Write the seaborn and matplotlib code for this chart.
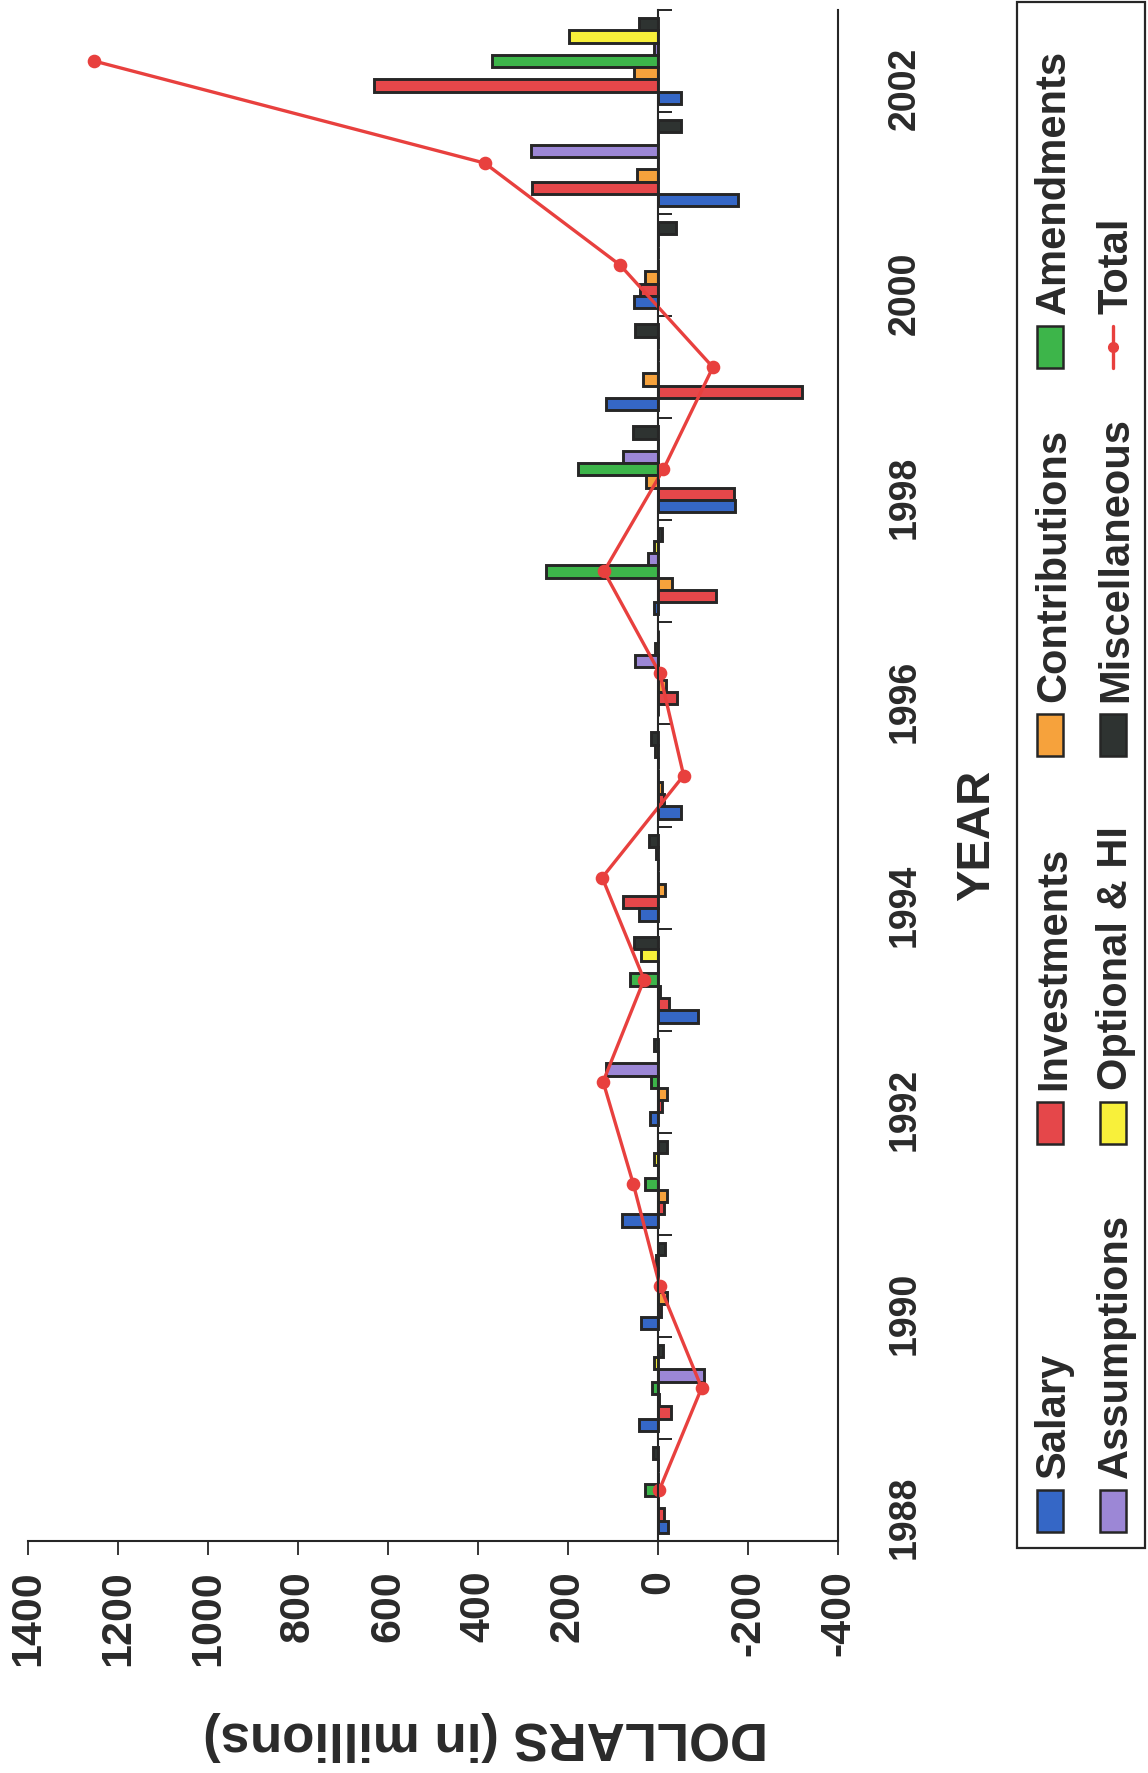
import numpy as np
import pandas as pd
import matplotlib
matplotlib.use("Agg")
import matplotlib.pyplot as plt
from matplotlib.patches import Rectangle
from matplotlib.lines import Line2D
import seaborn as sns

# ---- data (millions of dollars) -------------------------------------------
years = [1988, 1989, 1990, 1991, 1992, 1993, 1994, 1995,
         1996, 1997, 1998, 1999, 2000, 2001, 2002]
salary = [-22, 42, 37, 79, 17, -88, 42, -52, 0, 9, -172, 115, 54, -178, -50]
investments = [-13, -28, -7, -13, -9, -24, 78, -13, -42, -128, -169, -319, 39, 279, 632]
contributions = [0, -3, -21, -21, -19, -5, -15, -9, -18, -30, 26, 33, 28, 46, 53]
amendments = [28, 13, 0, 28, 16, 63, 0, 0, 0, 248, 178, 0, 0, 0, 369]
assumptions = [0, -102, 0, 0, 115, 0, 0, 0, 52, 22, 77, 0, 0, 283, 9]
optional_hi = [0, 10, 5, 9, 0, 37, 4, 7, 7, 10, 0, 0, 0, 0, 198]
miscellaneous = [11, -11, -15, -19, 10, 53, 20, 15, 0, -9, 56, 52, -39, -50, 43]
total = [-3, -97, -4, 55, 122, 31, 124, -57, -4, 120, -12, -122, 84, 385, 1253]

series_names = ["Salary", "Investments", "Contributions", "Amendments",
                "Assumptions", "Optional & HI", "Miscellaneous"]
series_values = [salary, investments, contributions, amendments,
                 assumptions, optional_hi, miscellaneous]
series_colors = ["#3567C6", "#E5474A", "#F6A23C", "#3DB54A",
                 "#9C87D6", "#F8F03A", "#2E3331"]
total_color = "#E8403E"
value_ticks = [-400, -200, 0, 200, 400, 600, 800, 1000, 1200, 1400]

# ---- style ------------------------------------------------------------------
sns.set_theme(style="ticks")
plt.rcParams["font.family"] = ["Liberation Sans", "DejaVu Sans"]
plt.rcParams["font.weight"] = "bold"
plt.rcParams["axes.unicode_minus"] = False
text_color = "#2a2a2a"
edge_color = "#262626"

W, H = 1148, 1773
fig = plt.figure(figsize=(W / 100, H / 100), dpi=100)


def fx(px):
    return px / W


def fy(py):
    return 1 - py / H


ax = fig.add_axes([fx(28), fy(1541), fx(838) - fx(28), fy(10) - fy(1541)])
ax.set_facecolor("white")

# ---- long-form table for seaborn ----------------------------------------------
year_labels = [str(y) for y in years]
order = year_labels[::-1]
rows = []
for name, vals in zip(series_names, series_values):
    for yl, v in zip(year_labels, vals):
        rows.append((yl, name, v))
df = pd.DataFrame(rows, columns=["year", "series", "value"])
tot_df = pd.DataFrame({"year": year_labels, "total": total})

palette = dict(zip(series_names, series_colors))
sns.barplot(data=df, x="value", y="year", hue="series", order=order,
            hue_order=series_names[::-1], palette=palette, orient="h",
            width=0.843, gap=0, errorbar=None, legend=False, saturation=1,
            edgecolor=edge_color, linewidth=2.1, ax=ax)

sns.pointplot(data=tot_df, x="total", y="year", order=order, orient="h",
              color=total_color, markers="o", errorbar=None,
              markersize=8, linewidth=2.4, ax=ax)

# ---- axes ---------------------------------------------------------------------
ax.set_xlim(1400, -400)
ax.set_ylim(len(order) - 0.5, -0.5)
ax.set_xticks(value_ticks)
ax.set_xticklabels([str(v) for v in value_ticks])
ax.tick_params(axis="x", direction="out", length=10, width=1.3, pad=11,
               labelsize=31, labelrotation=90, labelcolor=text_color,
               color=edge_color)

ax.spines["top"].set_visible(False)
ax.spines["left"].set_position(("data", 0))
for s in ["left", "right", "bottom"]:
    ax.spines[s].set_linewidth(1.5)
    ax.spines[s].set_color(edge_color)

major_pos = [i for i, y in enumerate(order) if int(y) % 2 == 0]
ax.set_yticks(major_pos, [order[i] for i in major_pos])
ax.set_yticks(np.arange(-0.5, len(order), 1.0), minor=True)
ax.tick_params(axis="y", which="major", left=False, right=True, length=0,
               labelleft=False, labelright=True, pad=35, labelsize=27,
               labelrotation=90, labelcolor=text_color)
ax.tick_params(axis="y", which="minor", left=True, right=False,
               direction="in", length=10, width=1.4, color=edge_color)

ax.set_xlabel("DOLLARS (in millions)", fontsize=38, fontweight="bold",
              rotation=180, color=text_color)
ax.xaxis.label.set_va("center")
ax.xaxis.set_label_coords((486 - 28) / 810, (1541 - 1736) / 1531)

ax.yaxis.set_label_position("right")
ax.set_ylabel("YEAR", fontsize=34, fontweight="bold", rotation=90,
              color=text_color)
ax.yaxis.label.set_va("center")
ax.yaxis.label.set_ha("center")
ax.yaxis.set_label_coords((977 - 28) / 810, (1541 - 835) / 1531)

# ---- legend (turned with the chart) ------------------------------------------
fig.add_artist(Rectangle((fx(1017), fy(1548)), fx(1145) - fx(1017),
                         fy(2) - fy(1548), transform=fig.transFigure,
                         fill=False, lw=1.6, ec=edge_color))

left_col = list(zip(series_names[:4], series_colors[:4]))
right_col = list(zip(series_names[4:], series_colors[4:])) + [("Total", None)]
columns = [(left_col, 1037, 1065), (right_col, 1100, 1127)]
key_w, key_h, step = 26, 42, 388
for entries, key_x, base_x in columns:
    for j, (name, color) in enumerate(entries):
        bottom = 1531.7 - j * step
        if color is None:
            mid_x = key_x + key_w / 2
            fig.add_artist(Line2D([fx(mid_x), fx(mid_x)],
                                  [fy(bottom), fy(bottom - key_h)],
                                  transform=fig.transFigure,
                                  color=total_color, lw=2.4))
            fig.add_artist(Line2D([fx(mid_x)], [fy(bottom - key_h / 2)],
                                  transform=fig.transFigure, marker="o",
                                  markersize=7, color=total_color, lw=0))
        else:
            fig.add_artist(Rectangle((fx(key_x), fy(bottom)), fx(key_w),
                                     key_h / H, transform=fig.transFigure,
                                     fc=color, ec=edge_color, lw=1.8))
        fig.text(fx(base_x), fy(bottom - key_h - 12), name, rotation=90,
                 rotation_mode="anchor", ha="left", va="baseline",
                 fontsize=30, fontweight="bold", color=text_color)

fig.savefig("out.png", dpi=100)
